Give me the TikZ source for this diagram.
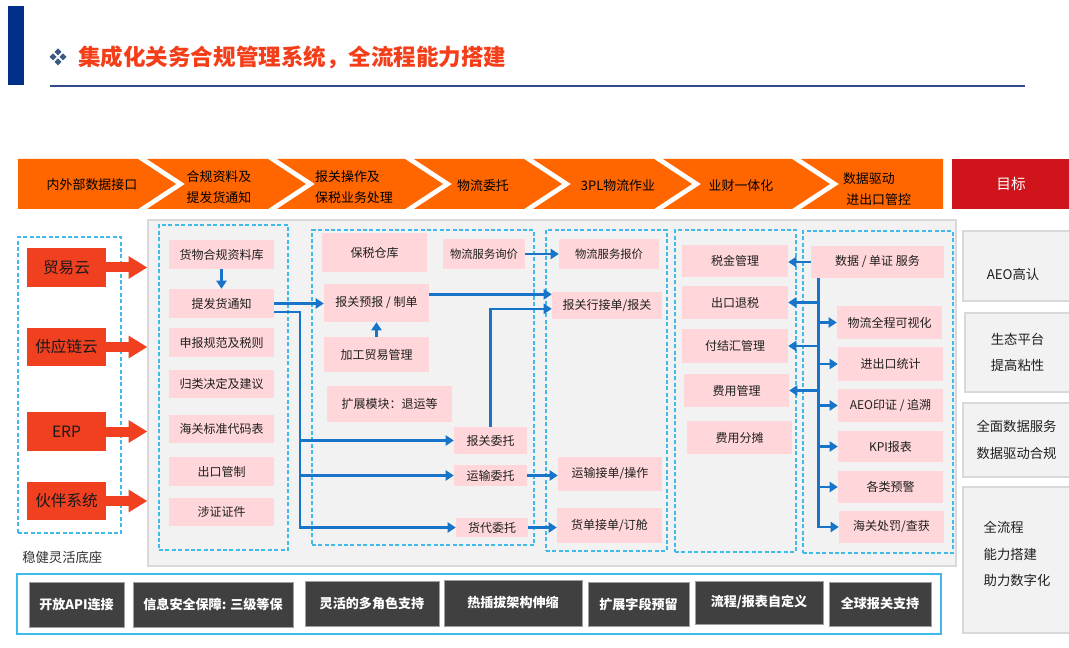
\documentclass[tikz,border=0pt]{standalone}
\usepackage{fontspec}
\setmainfont{Noto Sans CJK SC}
\usetikzlibrary{arrows.meta}
\definecolor{navy}{RGB}{0,48,135}
\definecolor{titred}{RGB}{244,62,25}
\definecolor{chev}{RGB}{255,102,0}
\definecolor{goalred}{RGB}{208,20,27}
\definecolor{pinkf}{RGB}{255,214,217}
\definecolor{panelg}{RGB}{242,242,242}
\definecolor{panelb}{RGB}{217,217,217}
\definecolor{cyanl}{RGB}{64,186,234}
\definecolor{flowb}{RGB}{24,116,200}
\definecolor{srcred}{RGB}{240,64,32}
\definecolor{darkb}{RGB}{64,64,64}
\definecolor{lineb}{RGB}{50,75,135}
\definecolor{bullet}{RGB}{60,90,130}
\newcommand\bx[7]{\node[#1, minimum width={(#4-#2)*0.75pt}, minimum height={(#5-#3)*0.75pt}] (#6) at ({(#2+#4)/2},{(#3+#5)/2}) {#7};}
\newcommand\chevshape[2]{\fill[chev] (#1,159) -- (#2,159) -- ({#2+38},184) -- (#2,209) -- (#1,209) -- ({#1+38},184) -- cycle;}
\tikzset{
  pinkbox/.style={fill=pinkf, inner sep=0pt, text=black!88, font=\fontsize{9}{11}\selectfont},
  srcbox/.style={fill=srcred, inner sep=0pt, text=black!90, font=\fontsize{11.7}{14}\selectfont},
  dashbox/.style={draw=cyanl, line width=1.2pt, dash pattern=on 3pt off 1.8pt, inner sep=0pt},
  panelbox/.style={fill=panelg, draw=panelb, line width=1pt, inner sep=0pt},
  goalbox/.style={fill=panelg, draw=panelb, line width=0.8pt, inner sep=0pt, align=center, text=black!88, font=\fontsize{10}{20}\selectfont},
  goaltext/.style={inner sep=0pt, text=black!88, font=\fontsize{10}{20}\selectfont},
  darkbox/.style={fill=darkb, draw=gray!75, line width=0.6pt, inner sep=0pt, text=white, font=\bfseries\fontsize{9.8}{12}\selectfont},
  flow/.style={draw=flowb, line width=2pt, -{Triangle[length=6pt,width=7.5pt]}},
  bigarrow/.style={draw=srcred, line width=7.5pt, -{Triangle[length=14pt,width=16pt]}},
  chevtext/.style={font=\fontsize{9.7}{15.5}\selectfont, align=left, text=black, inner sep=0pt},
}
\begin{document}
\begin{tikzpicture}[x=0.75pt,y=-0.75pt]
\useasboundingbox (0,0) rectangle (1069,648);
\fill[white] (0,0) rectangle (1069,648);
% title
\fill[navy] (8,6) rectangle (24,85);
\foreach \dx/\dy in {0/-5,5/0,0/5,-5/0}
  \fill[bullet] ({58+\dx},{57+\dy-3.5}) -- ({58+\dx+3.5},{57+\dy}) -- ({58+\dx},{57+\dy+3.5}) -- ({58+\dx-3.5},{57+\dy}) -- cycle;
\node[anchor=west, inner sep=0pt, text=titred, font=\bfseries\fontsize{16.9}{20}\selectfont] (title) at (78,57) {集成化关务合规管理系统，全流程能力搭建};
\draw[lineb, line width=1.5pt] (50,86) -- (1025,86);
% chevrons
\fill[chev] (18,159) -- (138,159) -- (176,184) -- (138,209) -- (18,209) -- cycle;
\chevshape{147}{268}
\chevshape{277}{405}
\chevshape{414}{524}
\chevshape{533}{654}
\chevshape{663}{792}
\fill[chev] (801,159) -- (943,159) -- (943,209) -- (801,209) -- (839,184) -- cycle;
\node[chevtext] (c1) at (92,185) {内外部数据接口};
\node[chevtext] (c2) at (219,187) {合规资料及\\提发货通知};
\node[chevtext] (c3) at (354,187) {报关操作及\\保税业务处理};
\node[chevtext] (c4) at (483,186) {物流委托};
\node[chevtext] (c5) at (618,186) {3PL物流作业};
\node[chevtext] (c6) at (741,186) {业财一体化};
\node[chevtext] (c7) at (877,189) {数据驱动\\\hspace{2.5pt}进出口管控};
\bx{fill=goalred, inner sep=0pt, text=white, font=\fontsize{11}{13}\selectfont}{952}{159}{1070}{209}{goal}{目标}
% main panel
\bx{panelbox}{148}{220}{956}{566}{panel}{}
\bx{dashbox}{18}{237}{121}{533}{lbox}{}
\bx{dashbox}{159}{225}{288}{550}{col1}{}
\bx{dashbox}{312}{230}{534}{545}{col2}{}
\bx{dashbox}{546}{230}{667}{551}{col3}{}
\bx{dashbox}{675}{230}{796}{552}{col4}{}
\bx{dashbox}{803}{231}{953}{553}{col5}{}
% sources
\bx{srcbox}{27}{248}{106}{287}{myy}{贸易云}
\bx{srcbox}{27}{328}{106}{366}{gyl}{供应链云}
\bx{srcbox}{27}{412}{106}{451}{erp}{ERP}
\bx{srcbox}{27}{482}{106}{520}{hbxt}{伙伴系统}
\foreach \n in {myy,gyl,erp,hbxt} \draw[bigarrow] (\n.east) -- (\n.east -| panel.west);
\node[anchor=west, inner sep=0pt, text=black!80, font=\fontsize{10}{12}\selectfont] (wjlh) at (22,557) {稳健灵活底座};
% column 1
\bx{pinkbox}{169}{240}{274}{269}{hwhg}{货物合规资料库}
\bx{pinkbox}{169}{289}{274}{318}{tfh}{提发货通知}
\bx{pinkbox}{169}{328}{274}{357}{sbgf}{申报规范及税则}
\bx{pinkbox}{169}{370}{274}{398}{gljd}{归类决定及建议}
\bx{pinkbox}{169}{415}{274}{443}{hgbz}{海关标准代码表}
\bx{pinkbox}{169}{457}{274}{486}{ckgz}{出口管制}
\bx{pinkbox}{169}{498}{274}{526}{szzj}{涉证证件}
% column 2
\bx{pinkbox}{322}{233}{427}{272}{bscq}{保税仓库}
\bx{pinkbox, font=\fontsize{8.5}{10}\selectfont}{443}{239}{525}{269}{wlxj}{物流服务询价}
\bx{pinkbox}{324}{284}{429}{322}{bgyb}{报关预报 / 制单}
\bx{pinkbox}{324}{337}{429}{372}{jgmy}{加工贸易管理}
\bx{pinkbox}{327}{386}{452}{422}{kzmk}{扩展模块：退运等}
\bx{pinkbox}{454}{427}{527}{454}{bgwt}{报关委托}
\bx{pinkbox}{454}{465}{527}{486}{yswt}{运输委托}
\bx{pinkbox}{456}{518}{528}{537}{hdwt}{货代委托}
% column 3
\bx{pinkbox, font=\fontsize{8.5}{10}\selectfont}{559}{239}{659}{269}{wlbj}{物流服务报价}
\bx{pinkbox}{552}{292}{662}{319}{bghjd}{报关行接单/报关}
\bx{pinkbox}{558}{457}{662}{491}{ysjd}{运输接单/操作}
\bx{pinkbox}{557}{508}{662}{543}{hdjd}{货单接单/订舱}
% column 4
\bx{pinkbox}{682}{245}{788}{277}{sjgl}{税金管理}
\bx{pinkbox}{682}{286}{788}{319}{ckts}{出口退税}
\bx{pinkbox}{682}{329}{788}{363}{fjh}{付结汇管理}
\bx{pinkbox}{684}{374}{789}{407}{fygl}{费用管理}
\bx{pinkbox}{687}{421}{792}{454}{fyft}{费用分摊}
% column 5
\bx{pinkbox}{811}{246}{944}{278}{sjdz}{数据 / 单证 服务}
\bx{pinkbox}{837}{306}{942}{339}{wlqc}{物流全程可视化}
\bx{pinkbox}{838}{347}{943}{381}{jckt}{进出口统计}
\bx{pinkbox}{838}{389}{943}{422}{aeo}{AEO印证 / 追溯}
\bx{pinkbox}{838}{431}{943}{462}{kpi}{KPI报表}
\bx{pinkbox}{838}{471}{943}{503}{glyj}{各类预警}
\bx{pinkbox}{839}{511}{944}{543}{hgcf}{海关处罚/查获}
% flows
\draw[flow] (hwhg.south) -- (tfh.north);
\draw[flow] (tfh.east) -- (tfh.east -| bgyb.west);
\coordinate (s1) at ([yshift=-6.4pt]tfh.east);
\coordinate (xj) at (300,0);
\coordinate (j1) at (s1 -| xj);
\draw[flow] (s1) -- (j1) |- (hdwt.west);
\draw[flow] (j1 |- bgwt.west) -- (bgwt.west);
\draw[flow] (j1 |- yswt.west) -- (yswt.west);
\draw[flow] (jgmy.north) -- (jgmy.north |- bgyb.south);
\coordinate (s2) at ([yshift=6.5pt]bgyb.east);
\draw[flow] (s2) -- (s2 -| bghjd.west);
\draw[flow] (bgwt.north) |- ([yshift=-2.5pt]bghjd.west);
\draw[flow] (wlxj.east) -- (wlxj.east -| wlbj.west);
\draw[flow] (yswt.east) -- (yswt.east -| ysjd.west);
\draw[flow] (hdwt.east) -- (hdwt.east -| hdjd.west);
\draw[flow] (sjdz.west) -- (sjdz.west -| sjgl.east);
\coordinate (t0) at ([xshift=6pt]sjdz.south west);
\draw[flow] (t0) |- (hgcf.west);
\foreach \n in {ckts,fjh,fygl} \draw[flow] (t0 |- \n.east) -- (\n.east);
\foreach \n in {wlqc,jckt,aeo,kpi,glyj} \draw[flow] (t0 |- \n.west) -- (\n.west);
% goals
\bx{goalbox}{963}{231}{1070}{301}{g1}{}
\node[goaltext] (g1t) at (1013,274) {AEO高认};
\bx{goalbox}{965}{313}{1070}{392}{g2}{生态平台\\提高粘性}
\bx{goalbox}{963}{403}{1070}{477}{g3}{全面数据服务\\数据驱动合规}
\bx{goalbox}{963}{487}{1070}{633}{g4}{}
\node[goaltext, align=left] (g4t) at (1017,554) {全流程\\能力搭建\\助力数字化};
% base
\bx{draw=cyanl, line width=1.5pt, inner sep=0pt}{17}{574}{941}{634}{base}{}
\bx{darkbox}{29}{582}{124}{627}{d1}{开放API连接}
\bx{darkbox}{133}{582}{293}{627}{d2}{信息安全保障: 三级等保}
\bx{darkbox}{305}{581}{439}{626}{d3}{灵活的多角色支持}
\bx{darkbox}{444}{580}{582}{626}{d4}{热插拔架构伸缩}
\bx{darkbox}{588}{582}{689}{626}{d5}{扩展字段预留}
\bx{darkbox}{695}{581}{823}{624}{d6}{流程/报表自定义}
\bx{darkbox}{829}{582}{931}{626}{d7}{全球报关支持}
\end{tikzpicture}
\end{document}
